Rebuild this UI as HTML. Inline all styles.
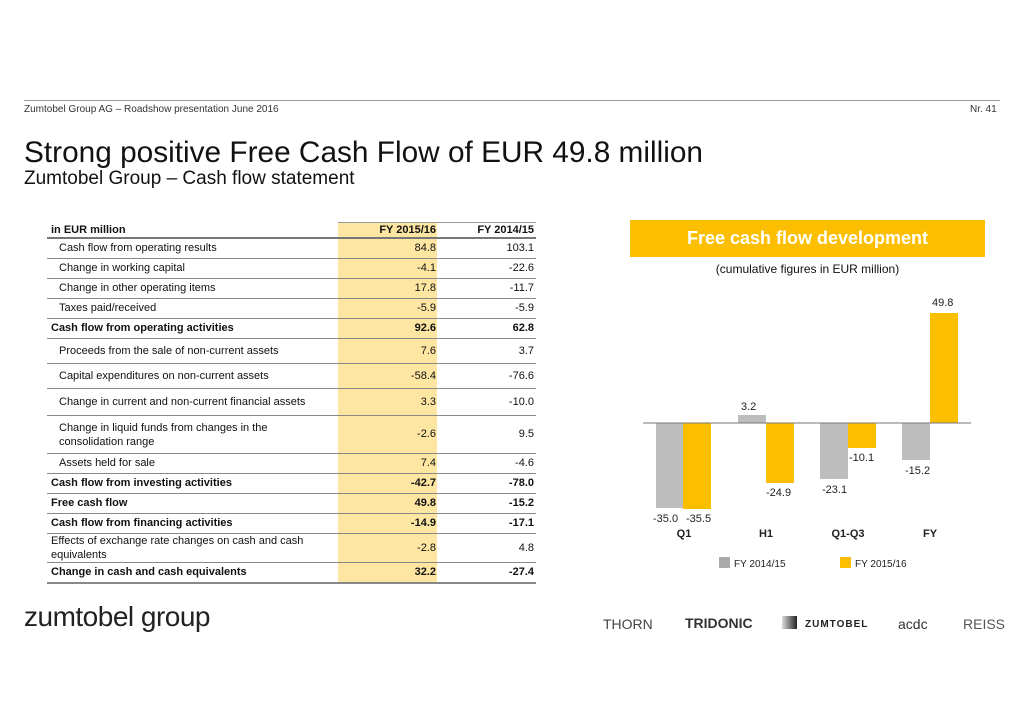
<!DOCTYPE html><html><head><meta charset="utf-8"><style>
body{margin:0;width:1024px;height:727px;background:#fff;font-family:"Liberation Sans",sans-serif;position:relative;overflow:hidden;color:#111}
.a{position:absolute;white-space:nowrap}
.r{position:absolute;left:47px;width:489px;border-bottom:1px solid #888;font-size:11px}
.r span{position:absolute}
.l{left:12px}.b .l{left:4px;font-weight:bold}
.v1{right:100px}.v2{right:2px}.b{font-weight:bold}
</style></head><body>
<div class="a" style="left:24px;top:104px;font-size:10px;color:#333">Zumtobel Group AG – Roadshow presentation June 2016</div>
<div class="a" style="left:970px;top:104px;font-size:10px;color:#333">Nr. 41</div>
<div class="a" style="left:24px;top:100px;width:976px;border-top:1px solid #999"></div>
<div class="a" style="left:24px;top:136px;font-size:29.8px">Strong positive Free Cash Flow of EUR 49.8 million</div>
<div class="a" style="left:24px;top:168px;font-size:19px">Zumtobel Group – Cash flow statement</div>
<div class="a" style="left:338px;top:222px;width:99px;height:361px;background:#fde5a2"></div>
<div class="a" style="left:338px;top:222px;width:198px;border-top:1px solid #999"></div>
<div class="r b" style="top:224px;height:13px;border-bottom:2px solid #777"><span class="l">in EUR million</span><span class="v1">FY 2015/16</span><span class="v2">FY 2014/15</span></div>
<div class="r" style="top:239px;height:19px"><span class="l" style="top:3px">Cash flow from operating results</span><span class="v1" style="top:3px">84.8</span><span class="v2" style="top:3px">103.1</span></div>
<div class="r" style="top:259px;height:19px"><span class="l" style="top:3px">Change in working capital</span><span class="v1" style="top:3px">-4.1</span><span class="v2" style="top:3px">-22.6</span></div>
<div class="r" style="top:279px;height:19px"><span class="l" style="top:3px">Change in other operating items</span><span class="v1" style="top:3px">17.8</span><span class="v2" style="top:3px">-11.7</span></div>
<div class="r" style="top:299px;height:19px"><span class="l" style="top:3px">Taxes paid/received</span><span class="v1" style="top:3px">-5.9</span><span class="v2" style="top:3px">-5.9</span></div>
<div class="r b" style="top:319px;height:19px"><span class="l" style="top:3px">Cash flow from operating activities</span><span class="v1" style="top:3px">92.6</span><span class="v2" style="top:3px">62.8</span></div>
<div class="r" style="top:339px;height:24px"><span class="l" style="top:6px">Proceeds from the sale of non-current assets</span><span class="v1" style="top:6px">7.6</span><span class="v2" style="top:6px">3.7</span></div>
<div class="r" style="top:364px;height:24px"><span class="l" style="top:6px">Capital expenditures on non-current assets</span><span class="v1" style="top:6px">-58.4</span><span class="v2" style="top:6px">-76.6</span></div>
<div class="r" style="top:389px;height:26px"><span class="l" style="top:7px">Change in current and non-current  financial assets</span><span class="v1" style="top:7px">3.3</span><span class="v2" style="top:7px">-10.0</span></div>
<div class="r" style="top:416px;height:37px"><span class="l" style="top:5px;line-height:14px">Change in liquid funds from changes in the<br>consolidation range</span><span class="v1" style="top:12px">-2.6</span><span class="v2" style="top:12px">9.5</span></div>
<div class="r" style="top:454px;height:19px"><span class="l" style="top:3px">Assets held for sale</span><span class="v1" style="top:3px">7.4</span><span class="v2" style="top:3px">-4.6</span></div>
<div class="r b" style="top:474px;height:19px"><span class="l" style="top:3px">Cash flow from investing activities</span><span class="v1" style="top:3px">-42.7</span><span class="v2" style="top:3px">-78.0</span></div>
<div class="r b" style="top:494px;height:19px"><span class="l" style="top:3px">Free cash flow</span><span class="v1" style="top:3px">49.8</span><span class="v2" style="top:3px">-15.2</span></div>
<div class="r b" style="top:514px;height:19px"><span class="l" style="top:3px">Cash flow from financing activities</span><span class="v1" style="top:3px">-14.9</span><span class="v2" style="top:3px">-17.1</span></div>
<div class="r" style="top:534px;height:28px"><span class="l" style="left:4px;top:0px;line-height:14px">Effects of exchange rate changes on cash and cash<br>equivalents</span><span class="v1" style="top:8px">-2.8</span><span class="v2" style="top:8px">4.8</span></div>
<div class="r b" style="top:563px;height:19px;border-bottom:2px solid #888"><span class="l" style="top:3px">Change in cash and cash equivalents</span><span class="v1" style="top:3px">32.2</span><span class="v2" style="top:3px">-27.4</span></div>

<div class="a" style="left:630px;top:220px;width:355px;height:37px;background:#fcbf00;color:#fff;font-weight:bold;font-size:18px;text-align:center;line-height:37px">Free cash flow development</div>
<div class="a" style="left:630px;top:262px;width:355px;text-align:center;font-size:12px">(cumulative figures in EUR million)</div>
<svg class="a" style="left:0;top:0" width="1024" height="727" font-family="Liberation Sans" font-size="11" fill="#222">
<rect x="656" y="423" width="27" height="85" fill="#bdbdbd"/><rect x="683" y="423" width="28" height="86" fill="#fcbf00"/>
<rect x="738" y="415" width="28" height="8" fill="#bdbdbd"/><rect x="766" y="423" width="28" height="60" fill="#fcbf00"/>
<rect x="820" y="423" width="28" height="56" fill="#bdbdbd"/><rect x="848" y="423" width="28" height="25" fill="#fcbf00"/>
<rect x="902" y="423" width="28" height="37" fill="#bdbdbd"/><rect x="930" y="313" width="28" height="110" fill="#fcbf00"/>
<line x1="643" y1="423" x2="971" y2="423" stroke="#777"/>
<text x="653" y="522">-35.0</text><text x="686" y="522">-35.5</text>
<text x="741" y="410">3.2</text><text x="766" y="496">-24.9</text>
<text x="822" y="493">-23.1</text><text x="849" y="461">-10.1</text>
<text x="905" y="474">-15.2</text><text x="932" y="306">49.8</text>
<g font-weight="bold" text-anchor="middle"><text x="684" y="537">Q1</text><text x="766" y="537">H1</text><text x="848" y="537">Q1-Q3</text><text x="930" y="537">FY</text></g>
<rect x="719" y="557" width="11" height="11" fill="#aaa"/><text x="734" y="567" font-size="10">FY 2014/15</text>
<rect x="840" y="557" width="11" height="11" fill="#fcbf00"/><text x="855" y="567" font-size="10">FY 2015/16</text>
</svg>
<div class="a" style="left:24px;top:601px;font-size:28px;color:#222;letter-spacing:-0.5px">zumtobel group</div>
<div class="a" style="left:603px;top:616px;font-size:14px;color:#444">THORN</div>
<div class="a" style="left:685px;top:615px;font-size:14px;font-weight:bold;color:#333">TRIDONIC</div>
<div class="a" style="left:782px;top:616px;width:15px;height:13px;background:linear-gradient(90deg,#ddd,#222)"></div>
<div class="a" style="left:805px;top:619px;font-size:10px;font-weight:bold;letter-spacing:1px;color:#222">ZUMTOBEL</div>
<div class="a" style="left:898px;top:616px;font-size:14px;color:#333">acdc</div>
<div class="a" style="left:963px;top:616px;font-size:14px;color:#555">REISS</div>
</body></html>
